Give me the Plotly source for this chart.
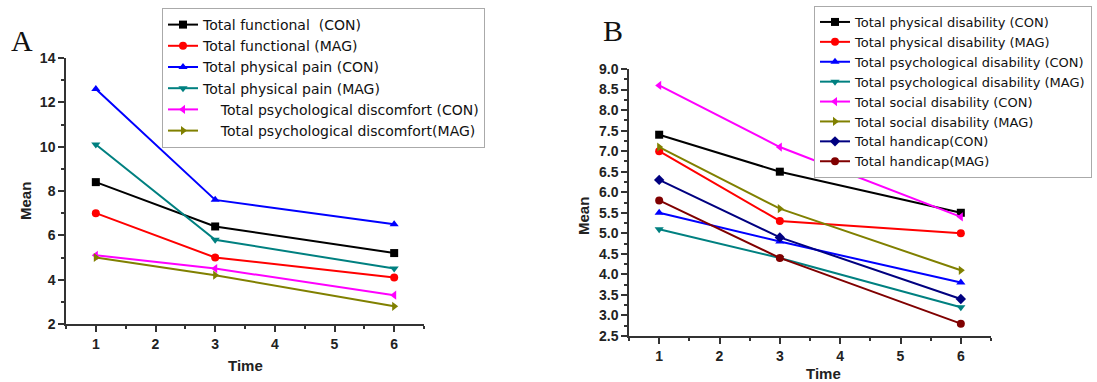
import plotly.graph_objects as go

time_points = [1, 3, 6]

# Panel A
a_names = [
    "Total functional  (CON)",
    "Total functional (MAG)",
    "Total physical pain (CON)",
    "Total physical pain (MAG)",
    "\u00a0\u00a0\u00a0\u00a0Total psychological discomfort (CON)",
    "\u00a0\u00a0\u00a0\u00a0Total psychological discomfort(MAG)",
]
a_func_con = [8.4, 6.4, 5.2]
a_func_mag = [7.0, 5.0, 4.1]
a_pain_con = [12.6, 7.6, 6.5]
a_pain_mag = [10.1, 5.8, 4.5]
a_psych_con = [5.1, 4.5, 3.3]
a_psych_mag = [5.0, 4.2, 2.8]
a_values = [a_func_con, a_func_mag, a_pain_con, a_pain_mag, a_psych_con, a_psych_mag]

# Panel B
b_names = [
    "Total physical disability (CON)",
    "Total physical disability (MAG)",
    "Total psychological disability (CON)",
    "Total psychological disability (MAG)",
    "Total social disability (CON)",
    "Total social disability (MAG)",
    "Total handicap(CON)",
    "Total handicap(MAG)",
]
b_phys_con = [7.4, 6.5, 5.5]
b_phys_mag = [7.0, 5.3, 5.0]
b_psych_con = [5.5, 4.8, 3.8]
b_psych_mag = [5.1, 4.4, 3.2]
b_social_con = [8.6, 7.1, 5.4]
b_social_mag = [7.1, 5.6, 4.1]
b_hand_con = [6.3, 4.9, 3.4]
b_hand_mag = [5.8, 4.4, 2.8]
b_values = [b_phys_con, b_phys_mag, b_psych_con, b_psych_mag,
            b_social_con, b_social_mag, b_hand_con, b_hand_mag]

# Tick labels
x_tickvals = [1, 2, 3, 4, 5, 6]
x_ticktext = ["<b>1</b>", "<b>2</b>", "<b>3</b>", "<b>4</b>", "<b>5</b>", "<b>6</b>"]
ya_tickvals = [2, 4, 6, 8, 10, 12, 14]
ya_ticktext = ["<b>2</b>", "<b>4</b>", "<b>6</b>", "<b>8</b>", "<b>10</b>", "<b>12</b>", "<b>14</b>"]
yb_tickvals = [2.5, 3.0, 3.5, 4.0, 4.5, 5.0, 5.5, 6.0, 6.5, 7.0, 7.5, 8.0, 8.5, 9.0]
yb_ticktext = ["<b>%.1f</b>" % v for v in yb_tickvals]

colors = ["#000000", "#ff0000", "#0000ff", "#008080",
          "#ff00ff", "#808000", "#000080", "#800000"]
symbols = ["square", "circle", "triangle-up", "triangle-down",
           "triangle-left", "triangle-right", "diamond", "circle"]

fig = go.Figure()

for i, (n, v) in enumerate(zip(a_names, a_values)):
    fig.add_trace(go.Scatter(
        x=time_points, y=v, name=n, mode="lines+markers",
        line=dict(color=colors[i], width=2),
        marker=dict(symbol=symbols[i], size=8, color=colors[i]),
        xaxis="x", yaxis="y", legend="legend",
    ))

for i, (n, v) in enumerate(zip(b_names, b_values)):
    fig.add_trace(go.Scatter(
        x=time_points, y=v, name=n, mode="lines+markers",
        line=dict(color=colors[i], width=2),
        marker=dict(symbol=symbols[i], size=8, color=colors[i]),
        xaxis="x2", yaxis="y2", legend="legend2",
    ))

W, H = 1097, 382
AXC = "#333333"


def axis_common(size):
    return dict(
        showline=True, linecolor=AXC, linewidth=1.5,
        ticks="outside", ticklen=6, tickwidth=1.5, tickcolor=AXC,
        showgrid=False, zeroline=False,
        tickfont=dict(family="Liberation Sans, Arial", size=size, color="#222222"),
    )


fig.update_layout(
    width=W, height=H,
    margin=dict(l=0, r=0, t=0, b=0, autoexpand=False),
    plot_bgcolor="white", paper_bgcolor="white",
    xaxis=dict(domain=[66 / W, 424 / W], range=[0.5, 6.5],
               tickmode="array", tickvals=x_tickvals, ticktext=x_ticktext,
               minor=dict(ticks="outside", ticklen=3, dtick=0.5, tick0=0.5, tickcolor=AXC),
               anchor="y", **axis_common(14)),
    yaxis=dict(domain=[1 - 324 / H, 1 - 58 / H], range=[2, 14],
               tickmode="array", tickvals=ya_tickvals, ticktext=ya_ticktext,
               minor=dict(ticks="outside", ticklen=3, dtick=1, tick0=0, tickcolor=AXC),
               anchor="x", **axis_common(14)),
    xaxis2=dict(domain=[629 / W, 991 / W], range=[0.5, 6.5],
                tickmode="array", tickvals=x_tickvals, ticktext=x_ticktext,
                minor=dict(ticks="outside", ticklen=3, dtick=0.5, tick0=0.5, tickcolor=AXC),
                anchor="y2", **axis_common(14)),
    yaxis2=dict(domain=[1 - 336 / H, 1 - 69 / H], range=[2.5, 9.0],
                tickmode="array", tickvals=yb_tickvals, ticktext=yb_ticktext,
                minor=dict(ticks="outside", ticklen=3, dtick=0.25, tick0=0, tickcolor=AXC),
                anchor="x2", **axis_common(14)),
    legend=dict(x=162 / W, y=1 - 8 / H, xanchor="left", yanchor="top",
                bgcolor="white", bordercolor="#aaaaaa", borderwidth=1,
                font=dict(family="DejaVu Sans", size=14, color="#111111"),
                tracegroupgap=0),
    legend2=dict(x=814 / W, y=1 - 6 / H, xanchor="left", yanchor="top",
                 bgcolor="white", bordercolor="#aaaaaa", borderwidth=1,
                 font=dict(family="DejaVu Sans", size=13, color="#111111"),
                 tracegroupgap=0),
    showlegend=True,
)

ann_font = dict(family="Liberation Sans, Arial", size=15, color="#222222")
annotations = [
    dict(text="A", x=22 / W, y=1 - 40 / H, xref="paper", yref="paper", showarrow=False,
         xanchor="center", yanchor="middle",
         font=dict(family="Liberation Serif, Times New Roman", size=30, color="#111111")),
    dict(text="B", x=613 / W, y=1 - 30 / H, xref="paper", yref="paper", showarrow=False,
         xanchor="center", yanchor="middle",
         font=dict(family="Liberation Serif, Times New Roman", size=30, color="#111111")),
    dict(text="<b>Mean</b>", x=25 / W, y=1 - 201 / H, xref="paper", yref="paper", showarrow=False,
         xanchor="center", yanchor="middle", textangle=-90, font=ann_font),
    dict(text="<b>Mean</b>", x=583 / W, y=1 - 216 / H, xref="paper", yref="paper", showarrow=False,
         xanchor="center", yanchor="middle", textangle=-90, font=ann_font),
    dict(text="<b>Time</b>", x=245 / W, y=1 - 365 / H, xref="paper", yref="paper", showarrow=False,
         xanchor="center", yanchor="middle", font=ann_font),
    dict(text="<b>Time</b>", x=823 / W, y=1 - 373 / H, xref="paper", yref="paper", showarrow=False,
         xanchor="center", yanchor="middle", font=ann_font),
]
fig.update_layout(annotations=annotations)

fig.write_html("out.html", config={"displayModeBar": False},
               post_script="document.body.style.margin='0';document.body.style.overflow='hidden';")
